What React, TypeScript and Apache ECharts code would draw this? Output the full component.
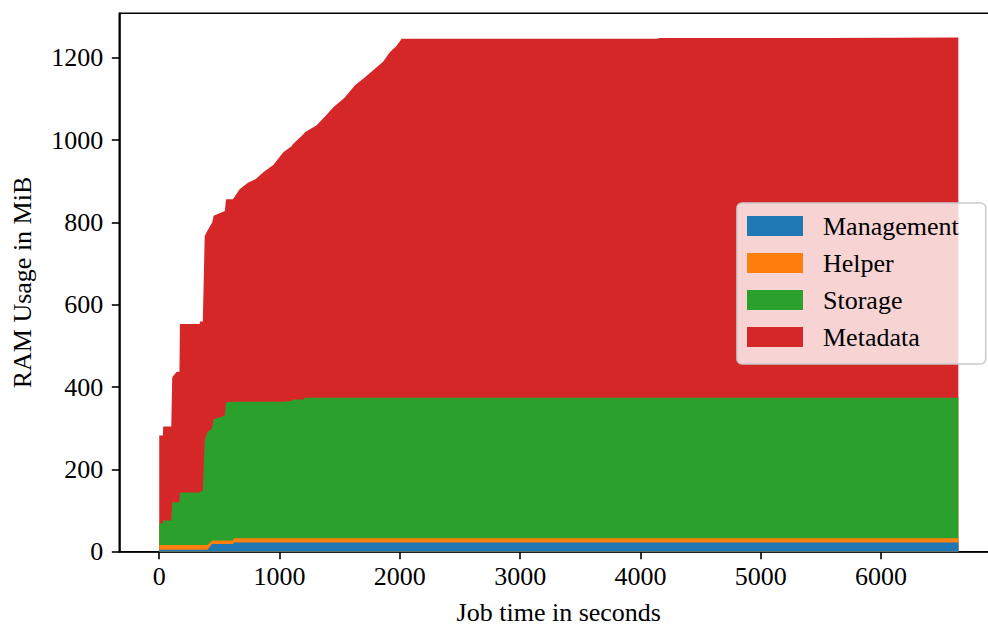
import React, { useEffect, useRef } from "react";
import * as echarts from "echarts";

// Sample times (seconds since job start)
const times = [
  0, 30, 33, 100, 108, 145, 168, 172, 335, 340, 362, 378, 400,
  440, 452, 545, 555, 612,
  625, 670, 740, 800, 865, 950, 1031, 1100, 1110, 1200, 1211,
  1308, 1380, 1447, 1540, 1627, 1700, 1807, 1860, 1918, 1970, 2015, 2030,
  3000, 4140, 4160, 5500, 6642,
];

// RAM usage per service (MiB)
const management = [
  5, 5, 5, 5, 5, 5, 5, 5, 5, 5, 5, 5, 5,
  19, 19, 19, 19, 19,
  22.5, 22.5, 22.5, 22.5, 22.5, 22.5, 22.5, 22.5, 22.5, 22.5, 22.5,
  22.5, 22.5, 22.5, 22.5, 22.5, 22.5, 22.5, 22.5, 22.5, 22.5, 22.5, 22.5,
  22.5, 22.5, 22.5, 22.5, 22.5,
];
const helper = [
  11, 11, 11, 11, 11, 11, 11, 11, 11, 11, 11, 11, 11,
  8.5, 8.5, 8.5, 8.5, 8.5,
  10, 10, 10, 10, 10, 10, 10, 10, 10, 10, 10,
  10, 10, 10, 10, 10, 10, 10, 10, 10, 10, 10, 10,
  10, 10, 10, 10, 10,
];
const storage = [
  53, 53, 60, 60, 104, 104, 104, 128, 128, 130, 131, 254, 274,
  272.5, 294.5, 302.5, 335.5, 336.5,
  331.5, 331.5, 331.5, 331.5, 331.5, 331.5, 332, 333.5, 337.5, 337.5, 341.5,
  341.5, 341.5, 341.5, 341.5, 341.5, 341.5, 341.5, 341.5, 341.5, 341.5, 341.5, 341.5,
  341.5, 341.5, 341.5, 341.5, 341.5,
];
const metadata = [
  213, 213, 228, 228, 304, 317, 317, 409, 409, 413, 412, 497, 490,
  500, 494, 498, 493, 492,
  498, 517, 533, 541, 558, 576, 606, 619, 620, 645, 645,
  662, 684, 706, 729, 759, 776, 803, 816, 840, 854, 872, 872,
  872, 872, 874, 874, 875,
];

const seriesNames = ["Management", "Helper", "Storage", "Metadata"];
const seriesColors = ["#1f77b4", "#ff7f0e", "#2ca02c", "#d62728"];
const seriesValues = [management, helper, storage, metadata];

const xTicks = [0, 1000, 2000, 3000, 4000, 5000, 6000];
const yTicks = [0, 200, 400, 600, 800, 1000, 1200];

const FONT = "'Liberation Serif', 'Times New Roman', serif";
const FS = 26;

// Running totals: layer k is the sum of services 0..k at each time
const cumulative = seriesValues.map((_, k) =>
  times.map((_, i) => {
    let s = 0;
    for (let j = 0; j <= k; j++) s += seriesValues[j][i];
    return s;
  })
);

export default function App() {
  const ref = useRef<HTMLDivElement>(null);

  useEffect(() => {
    if (!ref.current) return;
    const chart = echarts.init(ref.current, undefined, { renderer: "svg" });

    const axisCommon = {
      axisLine: {
        show: true,
        onZero: false,
        lineStyle: { color: "#000", width: 1.6 },
      },
      axisTick: {
        show: true,
        inside: false,
        length: 7.5,
        lineStyle: { color: "#000", width: 1.6 },
      },
      splitLine: { show: false },
      nameTextStyle: { fontFamily: FONT, fontSize: FS, color: "#000" },
    };

    const labelStyle = {
      fontFamily: FONT,
      fontSize: FS,
      color: "#000",
      formatter: (v: number) => String(v),
    };

    // Topmost layer first so each lower band is painted over it
    const order = [3, 2, 1, 0];

    chart.setOption({
      animation: false,
      backgroundColor: "#fff",
      grid: {
        left: 119.3,
        top: 13.3,
        width: 879,
        height: 538.4,
        outerBoundsMode: "none",
        containLabel: false,
        show: true,
        borderColor: "#000",
        borderWidth: 1.6,
        backgroundColor: "transparent",
      },
      xAxis: {
        type: "value",
        min: -332,
        max: 6974,
        name: "Job time in seconds",
        nameLocation: "middle",
        nameGap: 48,
        ...axisCommon,
        axisTick: { ...axisCommon.axisTick, customValues: xTicks },
        axisLabel: { ...labelStyle, customValues: xTicks, margin: 12 },
      },
      yAxis: {
        type: "value",
        min: 0,
        max: 1308,
        name: "RAM Usage in MiB",
        nameLocation: "middle",
        nameRotate: 90,
        nameGap: 84,
        ...axisCommon,
        axisTick: { ...axisCommon.axisTick, customValues: yTicks },
        axisLabel: { ...labelStyle, customValues: yTicks, margin: 16 },
      },
      legend: {
        orient: "vertical",
        left: 737,
        top: 203,
        data: seriesNames.map((name, k) => ({
          name,
          itemStyle: { color: seriesColors[k] },
        })),
        icon: "rect",
        itemWidth: 56,
        itemHeight: 20,
        itemGap: 11,
        padding: [10, 27, 14, 10],
        backgroundColor: "rgba(255,255,255,0.8)",
        borderColor: "#cccccc",
        borderWidth: 1.6,
        borderRadius: 5,
        selectedMode: false,
        textStyle: {
          fontFamily: FONT,
          fontSize: FS,
          color: "#000",
          padding: [0, 0, 0, 15],
        },
      },
      series: order.map((k) => ({
        name: seriesNames[k],
        type: "line",
        symbol: "none",
        showSymbol: false,
        smooth: false,
        itemStyle: { color: seriesColors[k] },
        lineStyle: { width: 0, color: seriesColors[k] },
        areaStyle: { color: seriesColors[k], opacity: 1 },
        data: times.map((t, i) => [t, cumulative[k][i]]),
      })),
    });

    return () => chart.dispose();
  }, []);

  return (
    <div
      ref={ref}
      style={{ position: "fixed", left: 0, top: 0, width: 988, height: 630 }}
    />
  );
}
